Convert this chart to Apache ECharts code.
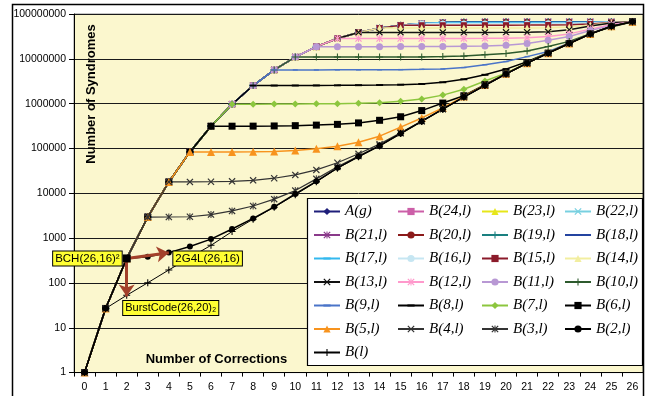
<!DOCTYPE html>
<html>
<head>
<meta charset="utf-8">
<script src="https://cdn.jsdelivr.net/npm/echarts@6/dist/echarts.min.js"></script>
<style>
html, body { margin: 0; padding: 0; background: #fff; }
#chart { width: 649px; height: 396px; }
</style>
</head>
<body>
<div id="chart"></div>
<script>
// Number of corrections (x categories)
const corrections = ['0','1','2','3','4','5','6','7','8','9','10','11','12','13','14','15','16','17','18','19','20','21','22','23','24','25','26'];

// Decade ticks of the syndrome axis
const syndromeTicks = [1, 10, 100, 1000, 10000, 100000, 1000000, 10000000, 100000000];

// Number of syndromes for each code family
const aG  = [1, 27, 352, 2952, 17902, 83682, 313912, 971712, 2.534e6, 5.659e6, 1.097e7, 1.870e7, 2.835e7, 3.875e7, 4.841e7, 5.614e7, 6.145e7, 6.457e7, 6.614e7, 6.679e7, 6.703e7, 6.709e7, 6.711e7, 6.711e7, 6.711e7, 6.711e7, 6.711e7];
const b24 = [1, 27, 352, 2952, 17902, 83682, 313912, 971712, 2.534e6, 5.659e6, 1.097e7, 1.870e7, 2.835e7, 3.875e7, 4.841e7, 5.614e7, 6.145e7, 6.457e7, 6.614e7, 6.679e7, 6.703e7, 6.709e7, 6.711e7, 6.711e7, 6.711e7, 6.711e7, 6.711e7];
const b23 = [1, 27, 352, 2952, 17902, 83682, 313912, 971712, 2.534e6, 5.659e6, 1.097e7, 1.870e7, 2.835e7, 3.875e7, 4.841e7, 5.614e7, 6.145e7, 6.457e7, 6.614e7, 6.679e7, 6.703e7, 6.709e7, 6.711e7, 6.711e7, 6.711e7, 6.711e7, 6.711e7];
const b22 = [1, 27, 352, 2952, 17902, 83682, 313912, 971712, 2.534e6, 5.659e6, 1.097e7, 1.870e7, 2.835e7, 3.875e7, 4.841e7, 5.614e7, 6.145e7, 6.457e7, 6.614e7, 6.679e7, 6.703e7, 6.709e7, 6.711e7, 6.711e7, 6.711e7, 6.711e7, 6.711e7];
const b21 = [1, 27, 352, 2952, 17902, 83682, 313912, 971712, 2.534e6, 5.659e6, 1.097e7, 1.870e7, 2.835e7, 3.875e7, 4.841e7, 5.614e7, 6.145e7, 6.457e7, 6.614e7, 6.679e7, 6.703e7, 6.709e7, 6.710e7, 6.711e7, 6.711e7, 6.711e7, 6.711e7];
const b20 = [1, 27, 352, 2952, 17902, 83682, 313912, 971712, 2.534e6, 5.659e6, 1.097e7, 1.870e7, 2.835e7, 3.875e7, 4.841e7, 5.614e7, 6.145e7, 6.457e7, 6.614e7, 6.679e7, 6.703e7, 6.705e7, 6.708e7, 6.710e7, 6.711e7, 6.711e7, 6.711e7];
const b19 = [1, 27, 352, 2952, 17902, 83682, 313912, 971712, 2.534e6, 5.659e6, 1.097e7, 1.870e7, 2.835e7, 3.875e7, 4.841e7, 5.614e7, 6.145e7, 6.457e7, 6.614e7, 6.679e7, 6.682e7, 6.685e7, 6.690e7, 6.695e7, 6.700e7, 6.708e7, 6.711e7];
const b18 = [1, 27, 352, 2952, 17902, 83682, 313912, 971712, 2.534e6, 5.659e6, 1.097e7, 1.870e7, 2.835e7, 3.875e7, 4.841e7, 5.614e7, 6.145e7, 6.457e7, 6.614e7, 6.615e7, 6.616e7, 6.618e7, 6.620e7, 6.630e7, 6.660e7, 6.700e7, 6.711e7];
const b17 = [1, 27, 352, 2952, 17902, 83682, 313912, 971712, 2.534e6, 5.659e6, 1.097e7, 1.870e7, 2.835e7, 3.875e7, 4.841e7, 5.614e7, 6.145e7, 6.457e7, 6.457e7, 6.458e7, 6.460e7, 6.462e7, 6.470e7, 6.500e7, 6.560e7, 6.670e7, 6.711e7];
const b16 = [1, 27, 352, 2952, 17902, 83682, 313912, 971712, 2.534e6, 5.659e6, 1.097e7, 1.870e7, 2.835e7, 3.875e7, 4.841e7, 5.614e7, 6.145e7, 6.145e7, 6.146e7, 6.147e7, 6.150e7, 6.160e7, 6.180e7, 6.230e7, 6.360e7, 6.600e7, 6.711e7];
const b15 = [1, 27, 352, 2952, 17902, 83682, 313912, 971712, 2.534e6, 5.659e6, 1.097e7, 1.870e7, 2.835e7, 3.875e7, 4.841e7, 5.614e7, 5.614e7, 5.615e7, 5.617e7, 5.620e7, 5.630e7, 5.650e7, 5.680e7, 5.760e7, 6.000e7, 6.500e7, 6.711e7];
const b14 = [1, 27, 352, 2952, 17902, 83682, 313912, 971712, 2.534e6, 5.659e6, 1.097e7, 1.870e7, 2.835e7, 3.875e7, 4.841e7, 4.841e7, 4.842e7, 4.843e7, 4.845e7, 4.850e7, 4.860e7, 4.890e7, 4.950e7, 5.150e7, 5.700e7, 6.400e7, 6.711e7];
const b13 = [1, 27, 352, 2952, 17902, 83682, 313912, 971712, 2.534e6, 5.659e6, 1.097e7, 1.870e7, 2.835e7, 3.875e7, 3.875e7, 3.876e7, 3.877e7, 3.879e7, 3.880e7, 3.890e7, 3.900e7, 3.930e7, 4.000e7, 4.450e7, 5.400e7, 6.300e7, 6.711e7];
const b12 = [1, 27, 352, 2952, 17902, 83682, 313912, 971712, 2.534e6, 5.659e6, 1.097e7, 1.870e7, 2.835e7, 2.835e7, 2.836e7, 2.837e7, 2.838e7, 2.840e7, 2.850e7, 2.860e7, 2.880e7, 2.950e7, 3.150e7, 3.600e7, 4.600e7, 5.800e7, 6.711e7];
const b11 = [1, 27, 352, 2952, 17902, 83682, 313912, 971712, 2.534e6, 5.659e6, 1.097e7, 1.870e7, 1.870e7, 1.871e7, 1.871e7, 1.872e7, 1.875e7, 1.880e7, 1.900e7, 1.930e7, 2.000e7, 2.200e7, 2.600e7, 3.160e7, 4.300e7, 5.500e7, 6.711e7];
const b10 = [1, 27, 352, 2952, 17902, 83682, 313912, 971712, 2.534e6, 5.659e6, 1.097e7, 1.097e7, 1.098e7, 1.098e7, 1.099e7, 1.100e7, 1.105e7, 1.120e7, 1.150e7, 1.240e7, 1.320e7, 1.500e7, 1.880e7, 2.450e7, 3.650e7, 5.100e7, 6.711e7];
const b9  = [1, 27, 352, 2952, 17902, 83682, 313912, 971712, 2.534e6, 5.659e6, 5.660e6, 5.660e6, 5.670e6, 5.680e6, 5.700e6, 5.740e6, 5.820e6, 5.950e6, 6.400e6, 7.400e6, 8.700e6, 1.120e7, 1.450e7, 2.250e7, 3.630e7, 5.330e7, 6.711e7];
const b8  = [1, 27, 352, 2952, 17902, 83682, 313912, 971712, 2.534e6, 2.535e6, 2.540e6, 2.550e6, 2.560e6, 2.580e6, 2.600e6, 2.650e6, 2.750e6, 3.000e6, 3.500e6, 4.400e6, 5.900e6, 8.600e6, 1.370e7, 2.220e7, 3.610e7, 5.310e7, 6.711e7];
const b7  = [1, 27, 352, 2952, 17902, 83682, 313912, 971712, 9.73e5, 9.76e5, 9.80e5, 9.90e5, 1.00e6, 1.02e6, 1.05e6, 1.13e6, 1.27e6, 1.55e6, 2.10e6, 3.20e6, 4.80e6, 8.10e6, 1.35e7, 2.21e7, 3.60e7, 5.30e7, 6.711e7];
const b6  = [1, 27, 352, 2952, 17902, 83682, 313912, 3.14e5, 3.15e5, 3.18e5, 3.23e5, 3.32e5, 3.45e5, 3.72e5, 4.25e5, 5.10e5, 7.00e5, 1.03e6, 1.50e6, 2.65e6, 4.65e6, 8.00e6, 1.34e7, 2.20e7, 3.60e7, 5.30e7, 6.711e7];
const b5  = [1, 27, 352, 2952, 17902, 83682, 83700, 83800, 84200, 86000, 90000, 99000, 1.12e5, 1.38e5, 1.88e5, 3.00e5, 4.80e5, 8.00e5, 1.45e6, 2.60e6, 4.62e6, 8.00e6, 1.34e7, 2.20e7, 3.60e7, 5.30e7, 6.711e7];
const b4  = [1, 27, 352, 2952, 17902, 17950, 18100, 18500, 19500, 21700, 25700, 33300, 48000, 76000, 1.25e5, 2.25e5, 4.10e5, 7.60e5, 1.41e6, 2.56e6, 4.60e6, 8.00e6, 1.34e7, 2.20e7, 3.60e7, 5.30e7, 6.711e7];
const b3  = [1, 27, 352, 2952, 2960, 3000, 3350, 4050, 5200, 7400, 11500, 21000, 39000, 68000, 1.17e5, 2.18e5, 4.03e5, 7.53e5, 1.40e6, 2.55e6, 4.60e6, 8.00e6, 1.34e7, 2.20e7, 3.60e7, 5.30e7, 6.711e7];
const b2  = [1, 27, 352, 385, 475, 650, 950, 1600, 2750, 5000, 9700, 18500, 37000, 66000, 1.145e5, 2.16e5, 4.01e5, 7.51e5, 1.40e6, 2.55e6, 4.60e6, 8.00e6, 1.34e7, 2.20e7, 3.60e7, 5.30e7, 6.711e7];
const bL  = [1, 27, 53, 101, 195, 370, 690, 1400, 2650, 4900, 9300, 18000, 36000, 65000, 1.14e5, 2.15e5, 4.00e5, 7.50e5, 1.40e6, 2.55e6, 4.60e6, 8.00e6, 1.34e7, 2.20e7, 3.60e7, 5.30e7, 6.711e7];

const seriesNames = ['A(g)', 'B(24,l)', 'B(23,l)', 'B(22,l)', 'B(21,l)', 'B(20,l)', 'B(19,l)', 'B(18,l)',
  'B(17,l)', 'B(16,l)', 'B(15,l)', 'B(14,l)', 'B(13,l)', 'B(12,l)', 'B(11,l)', 'B(10,l)',
  'B(9,l)', 'B(8,l)', 'B(7,l)', 'B(6,l)', 'B(5,l)', 'B(4,l)', 'B(3,l)', 'B(2,l)', 'B(l)'];
const seriesValues = [aG, b24, b23, b22, b21, b20, b19, b18, b17, b16, b15, b14, b13, b12, b11, b10,
  b9, b8, b7, b6, b5, b4, b3, b2, bL];

// Annotated code points
const annotations = [
  { text: 'BCH(26,16)\u00B2', at: '2', value: 352 },
  { text: '2G4L(26,16)', at: '4', value: 352 },
  { text: 'BurstCode(26,20)\u2082', at: '2', value: 27.7 }
];
const arrowFrom = ['2', 352];
const arrowTargets = [['4', 470], ['2', 50]];

// Marker shapes
const CROSS = 'path://M0,1.2L1.2,0L5,3.8L8.8,0L10,1.2L6.2,5L10,8.8L8.8,10L5,6.2L1.2,10L0,8.8L3.8,5Z';
const PLUS  = 'path://M4.25,0H5.75V4.25H10V5.75H5.75V10H4.25V5.75H0V4.25H4.25Z';
const STAR  = 'path://M0,1.2L1.2,0L5,3.8L8.8,0L10,1.2L6.2,5L10,8.8L8.8,10L5,6.2L1.2,10L0,8.8L3.8,5ZM4.3,0H5.7V10H4.3Z';
const DASH  = 'path://M0,0M10,10M0,3.6H10V6.4H0Z';

// Per-series look: colour, marker, marker size, line width
const looks = [
  { c: '#1f1f7a', s: 'diamond',  z: 6,  w: 1.5 },
  { c: '#cc5fa8', s: 'rect',     z: 6,  w: 1.5 },
  { c: '#e6e61a', s: 'triangle', z: 7,  w: 1.5 },
  { c: '#78d0e0', s: CROSS,      z: 7,  w: 1.5 },
  { c: '#8a3a8a', s: STAR,       z: 7,  w: 1.5 },
  { c: '#8b1a1a', s: 'circle',   z: 6,  w: 1.5 },
  { c: '#1a8080', s: PLUS,       z: 7,  w: 1.5 },
  { c: '#2444a0', s: DASH,       z: 7,  w: 1.5 },
  { c: '#33b8ee', s: DASH,       z: 7,  w: 1.5 },
  { c: '#c6e6f2', s: 'circle',   z: 6,  w: 1.5 },
  { c: '#8b1a2a', s: 'rect',     z: 6,  w: 1.5 },
  { c: '#f2eea0', s: 'triangle', z: 7,  w: 1.5 },
  { c: '#111111', s: CROSS,      z: 7,  w: 1.5 },
  { c: '#ff99cc', s: STAR,       z: 7,  w: 1.5 },
  { c: '#b898d4', s: 'circle',   z: 7,  w: 1.5 },
  { c: '#2d5a2d', s: PLUS,       z: 7,  w: 1.5 },
  { c: '#4a74c8', s: DASH,       z: 5,  w: 1.5 },
  { c: '#000000', s: DASH,       z: 7,  w: 1.5 },
  { c: '#8cc63e', s: 'diamond',  z: 7,  w: 1.5 },
  { c: '#000000', s: 'rect',     z: 7,  w: 1.5 },
  { c: '#f7931e', s: 'triangle', z: 8,  w: 1.5 },
  { c: '#333333', s: CROSS,      z: 7,  w: 1.2 },
  { c: '#333333', s: STAR,       z: 7,  w: 1.2 },
  { c: '#000000', s: 'circle',   z: 6,  w: 1.5 },
  { c: '#000000', s: PLUS,       z: 7,  w: 1 }
];

const boxLabel = {
  show: true,
  color: '#000',
  fontFamily: 'Liberation Sans, Arial, sans-serif',
  fontSize: 11.5,
  backgroundColor: '#ffff33',
  borderColor: '#000',
  borderWidth: 1,
  padding: [1, 2, 0, 2],
  lineHeight: 13
};

const series = seriesNames.map((name, i) => {
  const look = looks[i];
  const s = {
    name: name,
    type: 'line',
    data: seriesValues[i],
    symbol: look.s,
    symbolSize: look.z,
    showAllSymbol: true,
    lineStyle: { color: look.c, width: look.w },
    itemStyle: { color: look.c, borderWidth: 0 },
    emphasis: { disabled: true },
    silent: true,
    z: 2
  };
  if (name === 'B(l)') {
    s.markLine = {
      silent: true,
      symbol: ['none', 'arrow'],
      symbolSize: 12,
      label: { show: false },
      lineStyle: { color: '#a3412b', width: 3, type: 'solid' },
      emphasis: { disabled: true },
      data: arrowTargets.map(t => [{ coord: arrowFrom }, { coord: t }])
    };
    s.markPoint = {
      silent: true,
      data: [
        { coord: [annotations[0].at, annotations[0].value], symbol: 'rect', symbolSize: 8,
          itemStyle: { color: '#000' },
          label: Object.assign({}, boxLabel, { formatter: annotations[0].text, position: 'left', distance: 1 }) },
        { coord: [annotations[1].at, annotations[1].value], symbol: 'rect', symbolSize: 1,
          itemStyle: { color: 'rgba(0,0,0,0)' },
          label: Object.assign({}, boxLabel, { formatter: annotations[1].text, position: 'right', distance: 4 }) },
        { coord: [annotations[2].at, annotations[2].value], symbol: 'rect', symbolSize: 1,
          itemStyle: { color: 'rgba(0,0,0,0)' },
          label: Object.assign({}, boxLabel, { formatter: annotations[2].text, position: 'right', distance: -4, fontSize: 11 }) }
      ]
    };
  }
  return s;
});

// Legend laid out as four columns
const legendColumns = [
  ['A(g)', 'B(21,l)', 'B(17,l)', 'B(13,l)', 'B(9,l)', 'B(5,l)', 'B(l)'],
  ['B(24,l)', 'B(20,l)', 'B(16,l)', 'B(12,l)', 'B(8,l)', 'B(4,l)'],
  ['B(23,l)', 'B(19,l)', 'B(15,l)', 'B(11,l)', 'B(7,l)', 'B(3,l)'],
  ['B(22,l)', 'B(18,l)', 'B(14,l)', 'B(10,l)', 'B(6,l)', 'B(2,l)']
];
const legendLefts = [313, 397, 481, 564];
const legends = legendColumns.map((names, i) => ({
  data: names,
  orient: 'vertical',
  left: legendLefts[i],
  top: 202.5,
  padding: 0,
  itemGap: 5.5,
  itemWidth: 26,
  itemHeight: 9,
  selectedMode: false,
  textStyle: {
    fontFamily: 'Liberation Serif, Times New Roman, serif',
    fontStyle: 'italic',
    fontSize: 15,
    lineHeight: 18,
    color: '#000'
  }
}));

const chart = echarts.init(document.getElementById('chart'), null, { renderer: 'canvas' });
chart.setOption({
  animation: false,
  backgroundColor: '#ffffff',
  grid: {
    left: 74, right: 6, top: 14, bottom: 23.4,
    show: true, backgroundColor: '#fbf7ce', borderColor: '#8c8c8c', borderWidth: 1,
    outerBoundsMode: 'none'
  },
  xAxis: {
    type: 'category',
    data: corrections,
    boundaryGap: true,
    axisLine: { lineStyle: { color: '#000', width: 1 } },
    axisTick: { show: true, alignWithLabel: false, length: 4, lineStyle: { color: '#000' }, interval: 0 },
    axisLabel: { interval: 0, margin: 9, color: '#000', fontSize: 10.5, fontFamily: 'Liberation Sans, Arial, sans-serif' },
    splitLine: { show: false }
  },
  yAxis: {
    type: 'log',
    logBase: 10,
    min: syndromeTicks[0],
    max: syndromeTicks[syndromeTicks.length - 1],
    axisLine: { show: true, lineStyle: { color: '#000', width: 1 } },
    axisTick: { show: true, length: 5, lineStyle: { color: '#000' } },
    axisLabel: {
      margin: 8, color: '#000', fontSize: 10.5, fontFamily: 'Liberation Sans, Arial, sans-serif',
      formatter: v => String(Math.round(v))
    },
    splitLine: { show: true, lineStyle: { color: '#1a1a1a', width: 1 } },
    minorTick: { show: false }
  },
  legend: legends,
  graphic: [
    { type: 'rect', z: 10, silent: true,
      shape: { x: 12.5, y: 4.5, width: 631, height: 400 },
      style: { fill: 'none', stroke: '#000', lineWidth: 1.5 } },
    { type: 'rect', z: 3, silent: true,
      shape: { x: 307.5, y: 198.5, width: 335, height: 167 },
      style: { fill: '#ffffff', stroke: '#000', lineWidth: 1.2 } },
    { type: 'text', z: 3, silent: true, x: 91, y: 94, rotation: Math.PI / 2,
      style: { text: 'Number of Syndromes', font: 'bold 13px Liberation Sans, Arial, sans-serif',
        fill: '#000', align: 'center', verticalAlign: 'middle' } },
    { type: 'text', z: 3, silent: true, x: 216.5, y: 359,
      style: { text: 'Number of Corrections', font: 'bold 13px Liberation Sans, Arial, sans-serif',
        fill: '#000', align: 'center', verticalAlign: 'middle' } }
  ],
  series: series
});
</script>
</body>
</html>
